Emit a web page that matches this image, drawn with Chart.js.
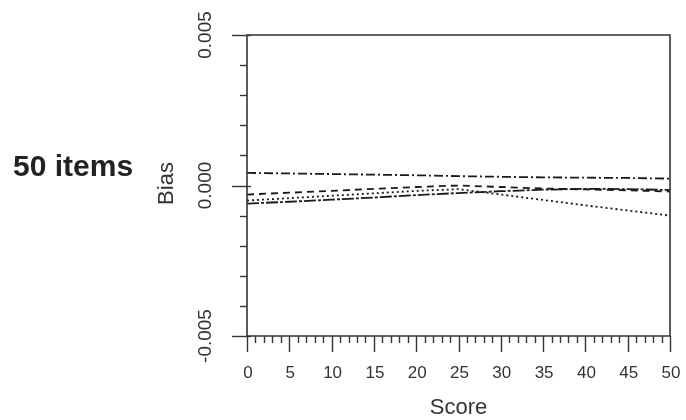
<!DOCTYPE html>
<html>
<head>
<meta charset="utf-8">
<script src="https://cdn.jsdelivr.net/npm/chart.js@4/dist/chart.umd.min.js"></script>
<style>
html,body{margin:0;padding:0;background:#fff;}
#wrap{width:686px;height:420px;position:relative;}
</style>
</head>
<body>
<div id="wrap"><canvas id="c" width="686" height="420"></canvas></div>
<script>
const scores = [0, 5, 10, 15, 20, 25, 30, 35, 40, 45, 50];
const seriesA = [0.00042, 0.00040, 0.00038, 0.00036, 0.00034, 0.00031, 0.00029, 0.00027, 0.00026, 0.00025, 0.00023];
const seriesB = [-0.00030, -0.00024, -0.00018, -0.00011, -0.00005, 0.00000, -0.00005, -0.00010, -0.00013, -0.00016, -0.00020];
const seriesC = [-0.00050, -0.00042, -0.00034, -0.00026, -0.00018, -0.00012, -0.00030, -0.00048, -0.00066, -0.00083, -0.00100];
const seriesD = [-0.00060, -0.00054, -0.00047, -0.00040, -0.00032, -0.00025, -0.00019, -0.00014, -0.00011, -0.00012, -0.00015];
const xTickLabels = ['0','5','10','15','20','25','30','35','40','45','50'];
const yTickValues = [0.005, 0.000, -0.005];
const yTickLabels = ['0.005', '0.000', '-0.005'];
const panelTitle = '50 items';
const xTitle = 'Score';
const yTitle = 'Bias';

const ink = '#1a1a1a';
const FONT = '"Liberation Sans", Arial, Helvetica, sans-serif';

function pts(arr){ return scores.map((s,i)=>({x:s,y:arr[i]})); }

const axesPlugin = {
  id: 'axesPlugin',
  afterDraw(chart){
    const ctx = chart.ctx;
    const xs = chart.scales.x, ys = chart.scales.y;
    const L = xs.left, R = xs.right, T = ys.top, B = ys.bottom;
    ctx.save();
    ctx.strokeStyle = '#333';
    ctx.lineWidth = 1.6;
    ctx.beginPath();
    ctx.rect(L, T, R - L, B - T);
    ctx.stroke();
    // y ticks
    ctx.lineWidth = 1.4;
    for (let v = -5; v <= 5; v++) {
      const py = Math.round(ys.getPixelForValue(v / 1000)) + 0.5;
      ctx.beginPath();
      if (v % 5 === 0) { ctx.moveTo(L - 15, py); ctx.lineTo(L + 4, py); }
      else { ctx.moveTo(L - 7, py); ctx.lineTo(L, py); }
      ctx.stroke();
    }
    // x ticks
    for (let s = 0; s <= 50; s++) {
      const px = Math.round(xs.getPixelForValue(s)) + 0.5;
      ctx.beginPath();
      if (s % 5 === 0) { ctx.moveTo(px, B); ctx.lineTo(px, B + 16); }
      else { ctx.moveTo(px, B); ctx.lineTo(px, B + 7); }
      ctx.stroke();
    }
    // x tick labels
    ctx.fillStyle = '#333';
    ctx.font = '17px ' + FONT;
    ctx.textAlign = 'center';
    ctx.textBaseline = 'middle';
    xTickLabels.forEach(t => {
      ctx.fillText(t, xs.getPixelForValue(Number(t)) + 1, B + 37);
    });
    // x title
    ctx.font = '22px ' + FONT;
    ctx.fillText(xTitle, (L + R) / 2, B + 72);
    // y tick labels rotated
    ctx.font = '19px ' + FONT;
    yTickValues.forEach((v, i) => {
      const py = ys.getPixelForValue(v);
      ctx.save();
      ctx.translate(L - 41, py);
      ctx.rotate(-Math.PI / 2);
      ctx.fillText(yTickLabels[i], 0, 0);
      ctx.restore();
    });
    // y title
    ctx.save();
    ctx.font = '22px ' + FONT;
    ctx.translate(L - 80, ys.getPixelForValue(0) - 2);
    ctx.rotate(-Math.PI / 2);
    ctx.fillText(yTitle, 0, 0);
    ctx.restore();
    // panel label
    ctx.font = 'bold 30px ' + FONT;
    ctx.fillStyle = '#222';
    ctx.textAlign = 'left';
    ctx.fillText(panelTitle, 13, ys.getPixelForValue(0) - 18);
    ctx.restore();
  }
};

new Chart(document.getElementById('c'), {
  type: 'line',
  data: {
    datasets: [
      { data: pts(seriesA), borderColor: ink, borderWidth: 1.8, borderDash: [9, 3, 2, 3], pointRadius: 0, fill: false, tension: 0 },
      { data: pts(seriesB), borderColor: ink, borderWidth: 1.8, borderDash: [7, 5], pointRadius: 0, fill: false, tension: 0 },
      { data: pts(seriesC), borderColor: ink, borderWidth: 1.8, borderDash: [2, 3], pointRadius: 0, fill: false, tension: 0 },
      { data: pts(seriesD), borderColor: ink, borderWidth: 1.8, borderDash: [12, 2, 3, 2], pointRadius: 0, fill: false, tension: 0 }
    ]
  },
  options: {
    responsive: false,
    animation: false,
    devicePixelRatio: 1,
    layout: { padding: { left: 239, right: 16, top: 35, bottom: 76 } },
    plugins: { legend: { display: false }, tooltip: { enabled: false } },
    scales: {
      x: { type: 'linear', min: 0, max: 50, grid: { display: false }, ticks: { display: false }, border: { display: false } },
      y: { type: 'linear', min: -0.005, max: 0.005, grid: { display: false }, ticks: { display: false }, border: { display: false } }
    }
  },
  plugins: [axesPlugin]
});
</script>
</body>
</html>
